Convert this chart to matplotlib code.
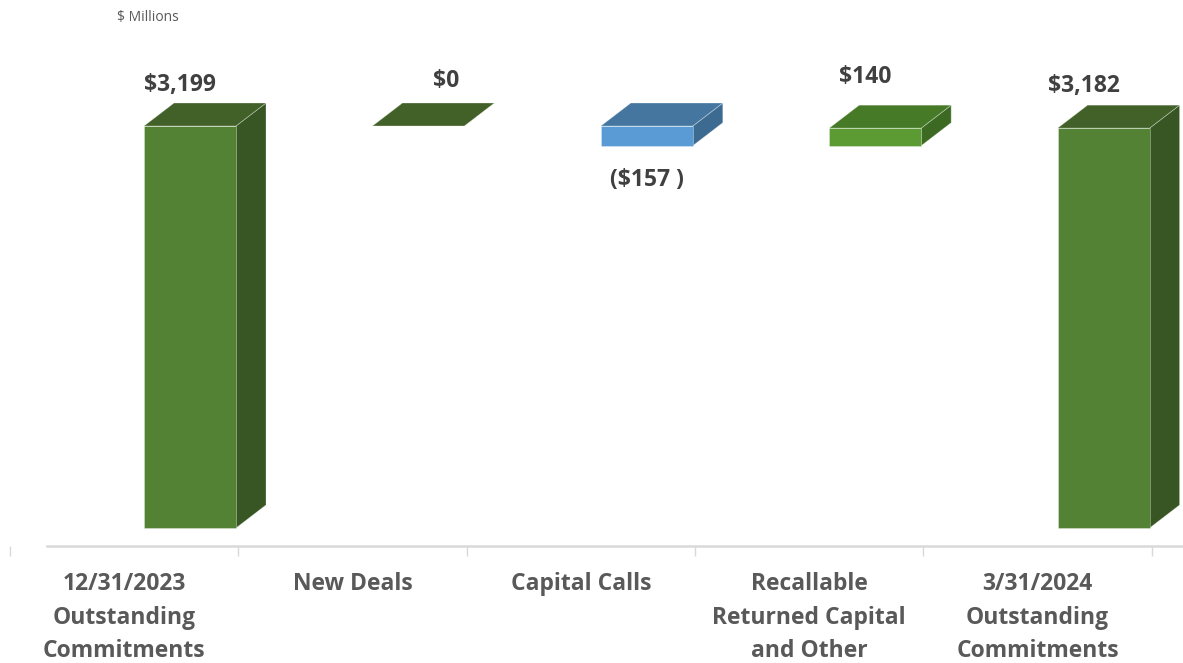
import matplotlib
matplotlib.use("Agg")
import matplotlib.pyplot as plt
from matplotlib.patches import Polygon

# ---------------------------------------------------------------------------
# data
# ---------------------------------------------------------------------------
categories = [
    "12/31/2023\nOutstanding\nCommitments",
    "New Deals",
    "Capital Calls",
    "Recallable\nReturned Capital\nand Other",
    "3/31/2024\nOutstanding\nCommitments",
]
values = [3199, 0, -157, 140, 3182]
is_total = [True, False, False, False, True]
value_labels = ["$3,199", "$0", "($157 )", "$140", "$3,182"]

# face colours (front, top, side) per bar
front_colors = ["#548235", "#426129", "#5b9bd5", "#5c9b33", "#548235"]
top_colors = ["#426129", "#426129", "#45769f", "#467a27", "#426129"]
side_colors = ["#375623", "#375623", "#3c6a90", "#3c6a22", "#375623"]

# ---------------------------------------------------------------------------
# geometry (pixel based, converted to data units)
# ---------------------------------------------------------------------------
W_PX, H_PX, DPI = 1183, 663, 100
CAT_PX = 228.4            # pixels per category
X0_PX = 124               # pixel x of category 0 centre
PX_PER_UNIT = 402 / 3199  # vertical pixels per $M
BASE_PX = 528             # pixel y of value 0
AXIS_PX = 546             # pixel y of the axis line

FRONT_OFF = 20 / CAT_PX
BAR_W = 92 / CAT_PX
DX = 30 / CAT_PX
DY = 23 / PX_PER_UNIT

fig = plt.figure(figsize=(W_PX / DPI, H_PX / DPI), dpi=DPI)
ax = fig.add_axes([0, (H_PX - AXIS_PX) / H_PX, 1, AXIS_PX / H_PX])

xmin = (0 - X0_PX) / CAT_PX
xmax = (W_PX - X0_PX) / CAT_PX
ax.set_xlim(xmin, xmax)
ax.set_ylim(-(AXIS_PX - BASE_PX) / PX_PER_UNIT, BASE_PX / PX_PER_UNIT)

for s in ["top", "right", "left"]:
    ax.spines[s].set_visible(False)
ax.spines["bottom"].set_color("#d9d9d9")
ax.spines["bottom"].set_linewidth(1.8)
ax.spines["bottom"].set_bounds((47 - X0_PX) / CAT_PX, xmax)
ax.set_yticks([])

LBL_FONT = ["Open Sans", "DejaVu Sans"]

ax.set_xticks([i - 0.5 for i in range(len(categories) + 1)])
ax.set_xticklabels([])
ax.tick_params(axis="x", which="major", length=7, width=1, color="#d9d9d9")
ax.set_xticks(range(len(categories)), minor=True)
ax.set_xticklabels(categories, minor=True, fontsize=16.5, fontweight="bold",
                   color="#595959", family=LBL_FONT, linespacing=1.55)
ax.tick_params(axis="x", which="minor", length=0, pad=18.5)

edge = (1, 1, 1, 0.35)

running = 0
tops = []
bottoms = []
for i, v in enumerate(values):
    if is_total[i]:
        b, t = 0, v
        running = v
    else:
        b, t = running, running + v
        running = t
    lo, hi = min(b, t), max(b, t)
    bottoms.append(lo)
    tops.append(hi)
    x0 = i + FRONT_OFF
    x1 = x0 + BAR_W
    side = Polygon([(x1, lo), (x1 + DX, lo + DY), (x1 + DX, hi + DY), (x1, hi)],
                   closed=True, facecolor=side_colors[i], edgecolor=edge, lw=0.6)
    top = Polygon([(x0, hi), (x1, hi), (x1 + DX, hi + DY), (x0 + DX, hi + DY)],
                  closed=True, facecolor=top_colors[i], edgecolor=edge, lw=0.6)
    front = Polygon([(x0, lo), (x1, lo), (x1, hi), (x0, hi)],
                    closed=True, facecolor=front_colors[i], edgecolor=edge, lw=0.6)
    for p in (side, top, front):
        ax.add_patch(p)

# value labels
label_nudge_px = [(-10, 6), (28, 10), (0, -22), (-10, 16), (-20, 7)]
for i, v in enumerate(values):
    cx = i + FRONT_OFF + BAR_W / 2
    dx_px, dy_px = label_nudge_px[i]
    if v < 0:
        y, va = bottoms[i], "top"
    else:
        y, va = tops[i] + DY, "bottom"
    ax.annotate(value_labels[i], (cx, y), xytext=(dx_px * 0.72, dy_px * 0.72),
                textcoords="offset points", ha="center", va=va,
                fontsize=16.5, fontweight="bold", color="#404040", family=LBL_FONT)

fig.text(117 / W_PX, 1 - 18 / H_PX, "$ Millions", fontsize=10,
         color="#595959", family=LBL_FONT, va="center", ha="left")

fig.savefig("out.png", dpi=DPI)
